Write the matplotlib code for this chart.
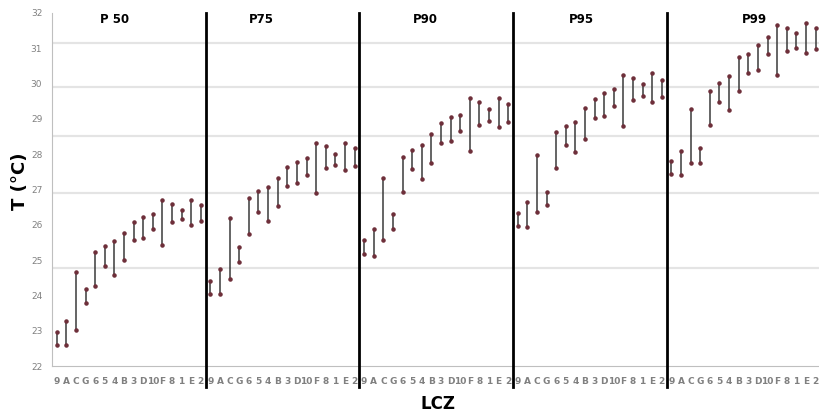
import matplotlib
matplotlib.use("Agg")
import matplotlib.pyplot as plt

# LCZ classes on the x axis (same order in each panel)
lcz = ["9", "A", "C", "G", "6", "5", "4", "B", "3", "D", "10", "F", "8", "1", "E", "2"]
panels = ["P 50", "P75", "P90", "P95", "P99"]

# max / min temperature per LCZ, one list per percentile
p50_hi = [22.97, 23.28, 24.67, 24.17, 25.23, 25.41, 25.54, 25.77, 26.08, 26.22, 26.32, 26.70, 26.60, 26.42, 26.70, 26.55]
p50_lo = [22.59, 22.59, 23.02, 23.79, 24.26, 24.84, 24.58, 24.99, 25.58, 25.63, 25.87, 25.44, 26.08, 26.16, 26.00, 26.11]
p75_hi = [24.42, 24.75, 26.18, 25.36, 26.75, 26.95, 27.07, 27.32, 27.63, 27.79, 27.88, 28.33, 28.23, 28.01, 28.33, 28.17]
p75_lo = [24.03, 24.03, 24.47, 24.95, 25.74, 26.37, 26.12, 26.53, 27.09, 27.18, 27.41, 26.91, 27.62, 27.70, 27.55, 27.67]
p90_hi = [25.57, 25.87, 27.32, 26.32, 27.93, 28.12, 28.27, 28.56, 28.87, 29.04, 29.12, 29.58, 29.48, 29.29, 29.59, 29.42]
p90_lo = [25.16, 25.13, 25.58, 25.87, 26.93, 27.58, 27.31, 27.75, 28.32, 28.38, 28.65, 28.08, 28.82, 28.94, 28.76, 28.91]
p95_hi = [26.34, 26.64, 27.98, 26.93, 28.63, 28.79, 28.91, 29.31, 29.56, 29.72, 29.85, 30.25, 30.17, 29.99, 30.29, 30.11]
p95_lo = [25.96, 25.94, 26.37, 26.55, 27.62, 28.27, 28.06, 28.42, 29.02, 29.08, 29.36, 28.79, 29.52, 29.65, 29.49, 29.63]
p99_hi = [27.82, 28.08, 29.29, 28.18, 29.80, 30.02, 30.22, 30.75, 30.85, 31.10, 31.32, 31.65, 31.58, 31.43, 31.71, 31.56]
p99_lo = [27.45, 27.41, 27.75, 27.76, 28.84, 29.47, 29.25, 29.80, 30.30, 30.37, 30.84, 30.25, 30.92, 31.01, 30.86, 30.99]

highs = [p50_hi, p75_hi, p90_hi, p95_hi, p99_hi]
lows = [p50_lo, p75_lo, p90_lo, p95_lo, p99_lo]

# horizontal grid lines as they appear in the original
grid_levels = [31.15, 29.90, 28.51, 26.89, 24.78]
# panel title positions (category index inside each panel)
title_pos = [6.0, 5.3, 6.4, 6.6, 8.6]

fig = plt.figure(figsize=(8.2, 4.16), dpi=100)
ax = fig.add_axes([0.0634, 0.12, 0.937, 0.849])

n = len(lcz)
for g in grid_levels:
    ax.axhline(g, color="#e4e4e4", lw=1.6, zorder=0)

for k in range(len(panels)):
    xs = [k * n + i for i in range(n)]
    ax.vlines(xs, lows[k], highs[k], color="#3a3a3a", lw=1.1, zorder=2)
    ax.scatter(xs, highs[k], s=5, color="#6e2f3a", zorder=3)
    ax.scatter(xs, lows[k], s=5, color="#6e2f3a", zorder=3)
    ax.text(k * n + title_pos[k], 31.8, panels[k], fontsize=8.5, fontweight="bold",
            ha="center", va="center")
    if k > 0:
        ax.axvline(k * n - 0.5, ymin=-0.06, ymax=1, color="black", lw=2,
                   clip_on=False, zorder=4)

ax.set_xlim(-0.5, len(panels) * n - 0.5)
ax.set_ylim(22, 32)
ax.set_xticks(range(len(panels) * n))
ax.set_xticklabels(lcz * len(panels), fontsize=6.5, color="#808080", fontweight="bold")
ax.set_yticks(range(22, 33))
ax.set_yticklabels([str(v) for v in range(22, 33)], fontsize=6.5, color="#808080")
ax.tick_params(axis="both", length=0)
ax.tick_params(axis="x", pad=8)
ax.tick_params(axis="y", pad=7)

for s in ["top", "right"]:
    ax.spines[s].set_visible(False)
ax.spines["left"].set_color("#bfbfbf")
ax.spines["bottom"].set_color("#bfbfbf")

fig.text(0.024, 0.565, "T (°C)", rotation=90, fontsize=13, fontweight="bold",
         ha="center", va="center")
fig.text(0.534, 0.03, "LCZ", fontsize=12, fontweight="bold", ha="center", va="center")

fig.savefig("out.png", dpi=100)
